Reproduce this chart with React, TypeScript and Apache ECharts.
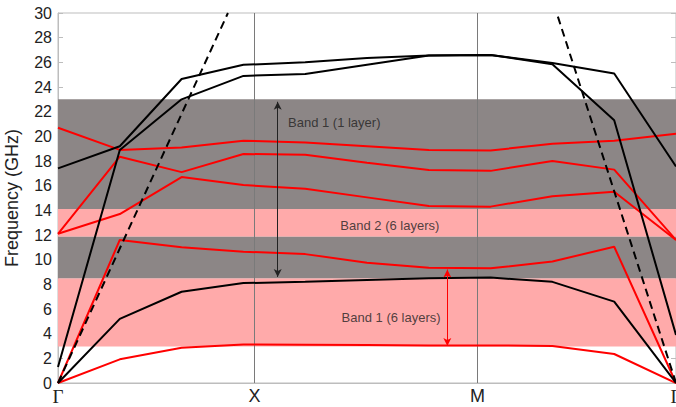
import React, { useEffect, useRef } from "react";
import * as echarts from "echarts";

// k-path sample index (11 points along Γ-X-M-Γ)
const kIndex = [0, 1, 2, 3, 4, 5, 6, 7, 8, 9, 10];
const kTickValues = [0, 3.18, 6.79, 10];
const kTickLabels = ["Γ", "X", "M", "Γ"];
const symmetryLines = [3.18, 6.79];

// Black bands (single layer)
const black1 = [0, 5.2, 7.4, 8.1, 8.2, 8.35, 8.5, 8.55, 8.2, 6.6, 0];
const black2 = [1.3, 18.9, 23.0, 24.9, 25.05, 25.8, 26.55, 26.6, 25.85, 21.3, 3.9];
const black3 = [17.4, 19.2, 24.65, 25.8, 26.0, 26.35, 26.55, 26.6, 25.95, 25.1, 17.55];

// Red bands (6 layers)
const red1 = [0, 1.92, 2.85, 3.13, 3.1, 3.08, 3.05, 3.05, 3.0, 2.35, 0];
const red2 = [0, 11.6, 11.0, 10.65, 10.45, 9.75, 9.35, 9.3, 9.85, 11.05, 0];
const red3 = [12.1, 13.7, 16.7, 16.05, 15.75, 15.05, 14.35, 14.3, 15.15, 15.5, 11.6];
const red4 = [12.1, 18.35, 17.1, 18.57, 18.5, 17.85, 17.27, 17.2, 18.0, 17.3, 11.6];
const red5 = [20.7, 18.9, 19.1, 19.65, 19.5, 19.2, 18.9, 18.85, 19.4, 19.65, 20.2];

// Light lines (dashed)
const lightLeft = [[0, 0], [2.75, 30]];
const lightRight = [[10, 0], [8.07, 30]];

// Band gaps
const pinkRanges = [[2.95, 8.5], [11.86, 14.1]];
const grayRanges = [[8.5, 11.86], [14.1, 23.0]];

// Annotations
const blackArrow = { k: 3.555, from: 22.8, to: 8.6 };
const redArrow = { k: 6.3, from: 9.2, to: 3.0 };
const notes = [
  { text: "Band 1 (1 layer)", k: 4.47, f: 21.1 },
  { text: "Band 2 (6 layers)", k: 5.37, f: 12.8 },
  { text: "Band 1 (6 layers)", k: 5.39, f: 5.35 },
];

const FONT = "Liberation Sans, Arial, Helvetica, sans-serif";

function pairs(vals: number[]) {
  return vals.map((v, i) => [kIndex[i], v]);
}

export default function App() {
  const ref = useRef<HTMLDivElement>(null);

  useEffect(() => {
    if (!ref.current) return;
    const chart = echarts.init(ref.current, undefined, { renderer: "svg" });

    const lineSeries = (vals: number[], color: string) => ({
      type: "line",
      data: pairs(vals),
      showSymbol: false,
      symbol: "none",
      lineStyle: { color, width: 2 },
      itemStyle: { color },
      z: 3,
      silent: true,
    });

    const option: any = {
      animation: false,
      backgroundColor: "#ffffff",
      grid: {
        left: 58,
        right: 0,
        top: 13,
        bottom: 24,
        outerBoundsMode: "none",
        containLabel: false,
        show: true,
        borderColor: "#bdbdbd",
        borderWidth: 1,
        backgroundColor: "transparent",
      },
      xAxis: {
        type: "value",
        min: 0,
        max: 10,
        axisLine: { show: true, lineStyle: { color: "#bdbdbd", width: 1 } },
        axisTick: { show: false },
        splitLine: { show: false },
        axisLabel: {
          customValues: kTickValues,
          margin: 4,
          color: "#222",
          fontSize: 18,
          fontFamily: FONT,
          formatter: (v: number) => {
            let best = 0;
            kTickValues.forEach((t, i) => {
              if (Math.abs(t - v) < Math.abs(kTickValues[best] - v)) best = i;
            });
            const lab = kTickLabels[best];
            return lab === "Γ" ? "{g|Γ}" : "{s|" + lab + "}";
          },
          rich: {
            g: { fontFamily: "Liberation Serif, DejaVu Serif, serif", fontSize: 19, color: "#222" },
            s: { fontFamily: FONT, fontSize: 18, color: "#222" },
          },
        },
      },
      yAxis: [
        {
          type: "value",
          min: 0,
          max: 30,
          interval: 2,
          name: "Frequency (GHz)",
          nameLocation: "middle",
          nameGap: 37,
          nameTextStyle: { fontSize: 18, color: "#222", fontFamily: FONT },
          axisLine: { show: true, lineStyle: { color: "#bdbdbd", width: 1 } },
          axisTick: { show: true, inside: true, length: 5, lineStyle: { color: "#bdbdbd" } },
          splitLine: { show: false },
          axisLabel: { fontSize: 16, color: "#222", fontFamily: FONT, margin: 6 },
        },
        {
          type: "value",
          position: "right",
          min: 0,
          max: 30,
          interval: 2,
          axisLine: { show: true, lineStyle: { color: "#bdbdbd", width: 1 } },
          axisTick: { show: true, inside: true, length: 5, lineStyle: { color: "#bdbdbd" } },
          splitLine: { show: false },
          axisLabel: { show: false },
        },
      ],
      series: [
        {
          type: "line",
          data: [],
          z: 1,
          silent: true,
          markArea: {
            silent: true,
            z: 1,
            data: [
              ...pinkRanges.map((r) => [
                { yAxis: r[0], itemStyle: { color: "#ffaaaa" } },
                { yAxis: r[1] },
              ]),
              ...grayRanges.map((r) => [
                { yAxis: r[0], itemStyle: { color: "#8c8686" } },
                { yAxis: r[1] },
              ]),
            ],
          },
          markLine: {
            silent: true,
            symbol: "none",
            z: 2,
            label: { show: false },
            lineStyle: { color: "#7a7a7a", width: 1, type: "solid" },
            data: symmetryLines.map((x) => ({ xAxis: x })),
          },
        },
        lineSeries(red1, "#ff0000"),
        lineSeries(red2, "#ff0000"),
        lineSeries(red3, "#ff0000"),
        lineSeries(red4, "#ff0000"),
        lineSeries(red5, "#ff0000"),
        lineSeries(black1, "#000000"),
        lineSeries(black2, "#000000"),
        lineSeries(black3, "#000000"),
        {
          type: "line",
          data: lightLeft,
          showSymbol: false,
          symbol: "none",
          clip: true,
          lineStyle: { color: "#000", width: 2, type: [8, 5] },
          z: 3,
        },
        {
          type: "line",
          data: lightRight,
          showSymbol: false,
          symbol: "none",
          clip: true,
          lineStyle: { color: "#000", width: 2, type: [8, 5] },
          z: 3,
        },
        {
          type: "line",
          data: [],
          z: 4,
          markLine: {
            silent: true,
            symbol: ["arrow", "arrow"],
            symbolSize: [6, 8],
            label: { show: false },
            lineStyle: { color: "#222", width: 1, type: "solid" },
            itemStyle: { color: "#222" },
            data: [
              [
                { coord: [blackArrow.k, blackArrow.from] },
                { coord: [blackArrow.k, blackArrow.to] },
              ],
            ],
          },
        },
        {
          type: "line",
          data: [],
          z: 4,
          markLine: {
            silent: true,
            symbol: ["arrow", "arrow"],
            symbolSize: [6, 8],
            label: { show: false },
            lineStyle: { color: "#ff0000", width: 1, type: "solid" },
            itemStyle: { color: "#ff0000" },
            data: [
              [
                { coord: [redArrow.k, redArrow.from] },
                { coord: [redArrow.k, redArrow.to] },
              ],
            ],
          },
        },
        {
          type: "scatter",
          z: 5,
          silent: true,
          symbolSize: 1,
          itemStyle: { color: "rgba(0,0,0,0)" },
          data: notes.map((n) => ({ value: [n.k, n.f], name: n.text })),
          label: {
            show: true,
            position: "inside",
            formatter: "{b}",
            color: "#222",
            fontSize: 13,
            fontFamily: FONT,
          },
        },
      ],
    };

    chart.setOption(option);
    return () => chart.dispose();
  }, []);

  return (
    <div
      ref={ref}
      style={{ position: "fixed", left: 0, top: 0, width: 676, height: 407, background: "#fff" }}
    />
  );
}
